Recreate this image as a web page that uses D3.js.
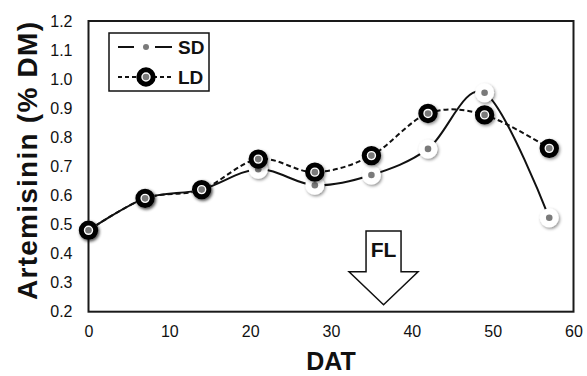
<!DOCTYPE html>
<html><head><meta charset="utf-8">
<script src="https://cdn.jsdelivr.net/npm/d3@7"></script>
<style>body{margin:0;background:#fff}svg{display:block;font-family:"Liberation Sans",Arial,sans-serif}</style>
</head><body><svg id="c" width="587" height="376"></svg>
<script>
const days = [0, 7, 14, 21, 28, 35, 42, 49, 57];
const sdValues = [0.48, 0.59, 0.62, 0.69, 0.635, 0.67, 0.76, 0.953, 0.523];
const ldValues = [0.48, 0.59, 0.62, 0.725, 0.68, 0.737, 0.882, 0.877, 0.762];
const xTicks = [0, 10, 20, 30, 40, 50, 60];
const yTicks = [0.2, 0.3, 0.4, 0.5, 0.6, 0.7, 0.8, 0.9, 1.0, 1.1, 1.2];
const seriesNames = ["SD", "LD"];
const flDAT = 36.5;

const svg = d3.select("#c");
const x = d3.scaleLinear().domain([0, 60]).range([88.5, 573.5]);
const y = d3.scaleLinear().domain([0.2, 1.2]).range([311.7, 21]);

const defs = svg.append("defs");
const f = defs.append("filter").attr("id","sh").attr("x","-50%").attr("y","-50%").attr("width","200%").attr("height","200%");
f.append("feDropShadow").attr("dx",1.2).attr("dy",1.5).attr("stdDeviation",1.6).attr("flood-color","#000").attr("flood-opacity",0.45);

// frame
svg.append("rect").attr("x", x(0)).attr("y", y(1.2)).attr("width", x(60)-x(0)).attr("height", y(0.2)-y(1.2))
  .attr("fill","none").attr("stroke","#1a1a1a").attr("stroke-width",2);

// axes
const yAxis = d3.axisLeft(y).tickValues(yTicks).tickSize(0).tickPadding(16).tickFormat(d3.format(".1f"));
const gy = svg.append("g").attr("transform",`translate(${x(0)},0)`).call(yAxis);
gy.select(".domain").remove();
gy.selectAll("text").attr("font-size",16).attr("fill","#111").attr("font-family","Liberation Sans, Arial");

const xAxis = d3.axisBottom(x).tickValues(xTicks).tickSize(0).tickPadding(14).tickFormat(d3.format("d"));
const gx = svg.append("g").attr("transform",`translate(0,${y(0.2)})`).call(xAxis);
gx.select(".domain").remove();
gx.selectAll("text").attr("font-size",16).attr("fill","#111").attr("font-family","Liberation Sans, Arial");

// titles
svg.append("text").attr("transform","translate(37,161) rotate(-90)").attr("text-anchor","middle")
  .attr("font-size",28).attr("font-weight","bold").attr("fill","#111")
  .attr("textLength",278).attr("lengthAdjust","spacing").text("Artemisinin (% DM)");
svg.append("text").attr("x",331).attr("y",370).attr("text-anchor","middle")
  .attr("font-size",25).attr("font-weight","bold").attr("fill","#111").text("DAT");

// FL arrow
const ax = x(flDAT);
const shaftHalf = 17.5, headHalf = 34.5;
const yTop = y(0.478), yHead = y(0.337), yTip = y(0.224);
svg.append("path").attr("d",
  `M${ax-shaftHalf},${yTop} L${ax+shaftHalf},${yTop} L${ax+shaftHalf},${yHead} L${ax+headHalf},${yHead} L${ax},${yTip} L${ax-headHalf},${yHead} L${ax-shaftHalf},${yHead} Z`)
  .attr("fill","#fff").attr("stroke","#111").attr("stroke-width",1.5);
svg.append("text").attr("x",ax).attr("y",yTop+26).attr("text-anchor","middle")
  .attr("font-size",21).attr("font-weight","bold").attr("fill","#111").text("FL");

// lines
const line = d3.line().x((d,i)=>x(days[i])).y(d=>y(d)).curve(d3.curveCatmullRom.alpha(0));
svg.append("path").attr("d", line(sdValues)).attr("fill","none").attr("stroke","#111").attr("stroke-width",2);
svg.append("path").attr("d", line(ldValues)).attr("fill","none").attr("stroke","#111").attr("stroke-width",2).attr("stroke-dasharray","5,3");

function sdMarker(g, shadow){
  g.append("circle").attr("r",9.5).attr("fill","#fff").attr("filter", shadow ? "url(#sh)" : null);
  g.append("circle").attr("r",3.3).attr("fill","#7a7a7a");
}
function ldMarker(g, shadow){
  g.append("circle").attr("r",7.2).attr("fill","#fff").attr("stroke","#000").attr("stroke-width",5).attr("filter", shadow ? "url(#sh)" : null);
  g.append("circle").attr("r",3.3).attr("fill","#7a7a7a");
}
svg.append("g").selectAll("g").data(sdValues).join("g")
  .attr("transform",(d,i)=>`translate(${x(days[i])},${y(d)})`).each(function(){ sdMarker(d3.select(this), true); });
svg.append("g").selectAll("g").data(ldValues).join("g")
  .attr("transform",(d,i)=>`translate(${x(days[i])},${y(d)})`).each(function(){ ldMarker(d3.select(this), true); });

// legend
const lg = svg.append("g").attr("transform","translate(109,33)");
lg.append("rect").attr("width",100).attr("height",58).attr("fill","#fff").attr("stroke","#111").attr("stroke-width",1.5);
seriesNames.forEach((name,i)=>{
  const yy = 14 + i*30;
  if(i===0){
    lg.append("line").attr("x1",9).attr("x2",25).attr("y1",yy).attr("y2",yy).attr("stroke","#111").attr("stroke-width",2);
    lg.append("line").attr("x1",46).attr("x2",63).attr("y1",yy).attr("y2",yy).attr("stroke","#111").attr("stroke-width",2);
    lg.append("circle").attr("cx",37).attr("cy",yy).attr("r",3).attr("fill","#7a7a7a");
  } else {
    lg.append("line").attr("x1",9).attr("x2",63).attr("y1",yy).attr("y2",yy).attr("stroke","#111").attr("stroke-width",2).attr("stroke-dasharray","4,3");
    ldMarker(lg.append("g").attr("transform",`translate(37,${yy})`), false);
  }
  lg.append("text").attr("x",69).attr("y",yy+7).attr("font-size",19).attr("font-weight","bold").attr("fill","#111").text(name);
});
</script></body></html>
